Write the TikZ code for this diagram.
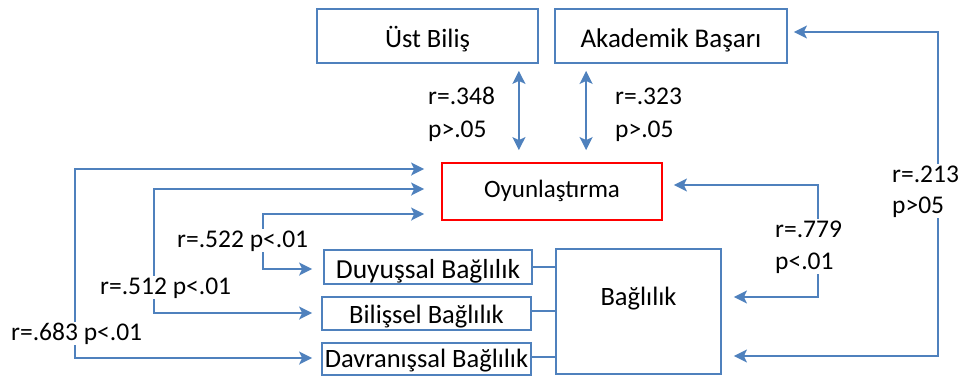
\documentclass[tikz,border=0pt]{standalone}
\usepackage{fontspec}
\setmainfont{Carlito}
\usetikzlibrary{arrows.meta,calc}
\definecolor{obl}{HTML}{4F81BD}
\definecolor{ored}{HTML}{FF0000}
\newcommand{\fs}[1]{\fontsize{#1}{31}\selectfont}
\begin{document}
\begin{tikzpicture}[x=1pt,y=-1pt,
  every node/.style={font=\fs{26.5}},
  bx/.style={draw=obl,line width=1.8pt,inner sep=0pt,text depth=0pt},
  conn/.style={draw=obl,line width=1.8pt},
  arr/.style={conn,{Stealth[length=13pt,width=13pt,inset=3pt]}-{Stealth[length=13pt,width=13pt,inset=3pt]}},
  lbl/.style={fill=white,inner sep=1pt,anchor=base west,align=left,font=\fontsize{25.5}{33}\selectfont}]
\useasboundingbox (0,0) rectangle (960,376);
% boxes
\node[bx,minimum width=221pt,minimum height=54pt,text height=22pt] (ust) at (427.5,36) {Üst Biliş};
\node[bx,minimum width=232pt,minimum height=54pt,text height=22pt,font=\fs{27}] (akad) at (671,36) {Akademik Başarı};
\node[bx,draw=ored,minimum width=220pt,minimum height=57pt,text height=11pt,font=\fs{25}] (oyun) at (552,191.5) {Oyunlaştırma};
\node[bx,minimum width=208pt,minimum height=34pt,text height=22pt,font=\fs{27.5}] (duy) at (428,267) {Duyuşsal Bağlılık};
\node[bx,minimum width=209pt,minimum height=33pt,text height=19pt] (bil) at (426.5,313.5) {Bilişsel Bağlılık};
\node[bx,minimum width=209pt,minimum height=32pt,text height=17pt] (dav) at (426.5,359) {Davranışsal Bağlılık};
\node[bx,minimum width=165pt,minimum height=125pt,text height=0pt,text depth=13pt] (bag) at (638.5,311.5) {Bağlılık};
% sub-boxes to Bağlılık
\draw[conn] (duy.east) -- (duy.east -| bag.west);
\draw[conn] ([yshift=2.5pt]bil.east) -- ([yshift=2.5pt]bil.east -| bag.west);
\draw[conn] ([yshift=2pt]dav.east) -- ([yshift=2pt]dav.east -| bag.west);
% double arrows up
\draw[arr,shorten <=7pt,shorten >=12pt] ([xshift=-20pt]ust.south east) -- ([xshift=-20pt]ust.south east |- oyun.north);
\draw[arr,shorten <=7pt,shorten >=12pt] ([xshift=32pt]akad.south west) -- ([xshift=32pt]akad.south west |- oyun.north);
% left arrows
\draw[arr,shorten <=17pt,shorten >=9pt] ([yshift=22.5pt]oyun.west) -- ++(-366,0) |- ([yshift=1pt]dav.west);
\draw[arr,shorten <=17pt,shorten >=9pt] ([yshift=2.5pt]oyun.west) -- ++(-287,0) |- ([yshift=0.5pt]bil.west);
\draw[arr,shorten <=17pt,shorten >=11pt] ([yshift=-22.5pt]oyun.west) -- ++(-178,0) |- ([yshift=-2pt]duy.west);
% right arrows
\draw[arr,shorten <=11pt,shorten >=12pt] ([yshift=6.5pt]oyun.east) -- ++(155,0) |- ([yshift=14.5pt]bag.east);
\draw[arr,shorten <=6pt,shorten >=12pt] ([yshift=4pt]akad.east) -- ++(150,0) |- ([yshift=-44.5pt]bag.east);
% labels (anchor at baseline of last line)
\node[lbl] (l348) at (427,137) {r=.348\\p>.05};
\node[lbl] (l323) at (614,137) {r=.323\\p>.05};
\node[lbl,font=\fontsize{25.5}{31}\selectfont] (l213) at (891,213) {r=.213\\p>05};
\node[lbl,font=\fontsize{25.5}{32}\selectfont] (l779) at (774,269) {r=.779\\p<.01};
\node[lbl] (l522) at (176,247) {r=.522 p<.01};
\node[lbl] (l512) at (99,294) {r=.512 p<.01};
\node[lbl] (l683) at (10,340) {r=.683 p<.01};
\end{tikzpicture}
\end{document}
